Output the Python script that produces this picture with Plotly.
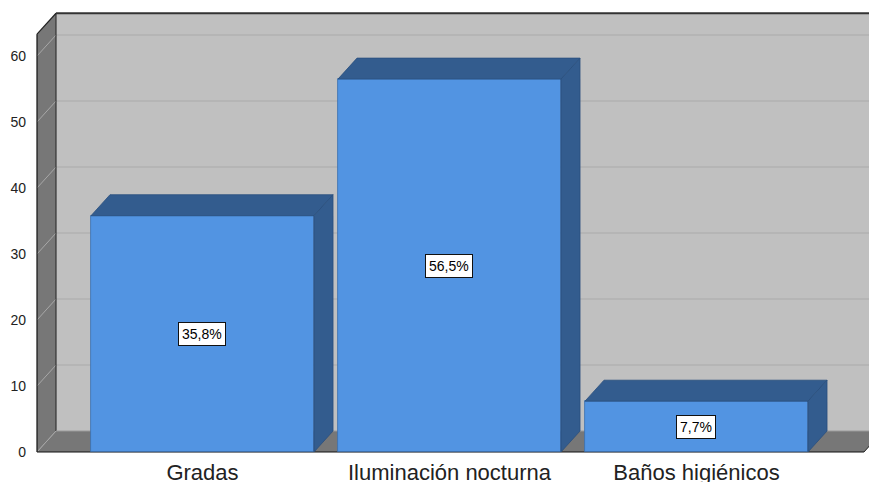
import plotly.graph_objects as go

categories = ["Gradas", "Iluminación nocturna", "Baños higiénicos"]
values = [35.8, 56.5, 7.7]
y_ticks = [0, 10, 20, 30, 40, 50, 60]

# styling / geometry (data units)
BAR_W = 0.903
DX = 0.077       # depth offset along x
DY = 3.18        # depth offset along y
X_LEFT = -0.670  # front-left corner of the frame
X_RIGHT = 2.678  # front-right end of floor
WALL_TOP = 63.3  # front top of left wall
FRONT = "#5294E2"
DARK = "#335C8E"
WALL_DARK = "#777777"
WALL_BACK = "#C0C0C0"

xs = list(range(len(categories)))
labels = [f"{v:.1f}".replace(".", ",") + "%" for v in values]

fig = go.Figure()

shapes = []
# back wall
shapes.append(dict(type="path", layer="below",
                   path=f"M {X_LEFT+DX},{DY} L {X_LEFT+DX},{WALL_TOP+DY} L {X_RIGHT+DX+0.2},{WALL_TOP+DY} L {X_RIGHT+DX+0.2},{DY} Z",
                   fillcolor=WALL_BACK, line=dict(width=0)))
# left wall
shapes.append(dict(type="path", layer="below",
                   path=f"M {X_LEFT},0 L {X_LEFT},{WALL_TOP} L {X_LEFT+DX},{WALL_TOP+DY} L {X_LEFT+DX},{DY} Z",
                   fillcolor=WALL_DARK, line=dict(width=0)))
# floor
shapes.append(dict(type="path", layer="below",
                   path=f"M {X_LEFT},0 L {X_LEFT+DX},{DY} L {X_RIGHT+DX},{DY} L {X_RIGHT},0 Z",
                   fillcolor=WALL_DARK, line=dict(width=0)))
# gridlines back wall + diagonals on left wall
for t in y_ticks[1:]:
    shapes.append(dict(type="line", layer="below", x0=X_LEFT+DX, x1=X_RIGHT+DX+0.2, y0=t+DY, y1=t+DY,
                       line=dict(color="#B2B2B2", width=1.5)))
    shapes.append(dict(type="line", layer="below", x0=X_LEFT, x1=X_LEFT+DX, y0=t, y1=t+DY,
                       line=dict(color="#A8A8A8", width=1)))
# corner diagonals at floor
shapes.append(dict(type="line", layer="below", x0=X_LEFT, x1=X_LEFT+DX, y0=0, y1=DY,
                   line=dict(color="#A8A8A8", width=1)))
shapes.append(dict(type="line", layer="below", x0=X_RIGHT, x1=X_RIGHT+DX, y0=0, y1=DY,
                   line=dict(color="#222222", width=1)))
# frame edges
shapes.append(dict(type="line", layer="below", x0=X_LEFT, x1=X_LEFT, y0=0, y1=WALL_TOP,
                   line=dict(color="#111111", width=1.2)))
shapes.append(dict(type="line", layer="below", x0=X_LEFT+DX, x1=X_LEFT+DX, y0=DY, y1=WALL_TOP+DY,
                   line=dict(color="#222222", width=1)))
shapes.append(dict(type="line", layer="below", x0=X_LEFT, x1=X_LEFT+DX, y0=WALL_TOP, y1=WALL_TOP+DY,
                   line=dict(color="#222222", width=1.2)))
shapes.append(dict(type="line", layer="below", x0=X_LEFT+DX, x1=X_RIGHT+DX+0.2, y0=WALL_TOP+DY, y1=WALL_TOP+DY,
                   line=dict(color="#333333", width=2)))
shapes.append(dict(type="line", layer="below", x0=X_LEFT, x1=X_RIGHT, y0=0, y1=0,
                   line=dict(color="#111111", width=1.2)))
shapes.append(dict(type="line", layer="below", x0=X_LEFT+DX, x1=X_RIGHT+DX+0.2, y0=DY, y1=DY,
                   line=dict(color="#9A9A9A", width=1)))

# 3D faces of bars (top and side), computed from the values
for x, v in zip(xs, values):
    l = x - BAR_W / 2
    r = x + BAR_W / 2
    fig.add_trace(go.Scatter(
        x=[l, l + DX, r + DX, r, l], y=[v, v + DY, v + DY, v, v],
        fill="toself", fillcolor=DARK, mode="lines",
        line=dict(color="#2A4F7D", width=0.8), hoverinfo="skip", showlegend=False))
    fig.add_trace(go.Scatter(
        x=[r, r, r + DX, r + DX, r], y=[0, v, v + DY, DY, 0],
        fill="toself", fillcolor=DARK, mode="lines",
        line=dict(color="#2A4F7D", width=0.8), hoverinfo="skip", showlegend=False))

fig.add_trace(go.Bar(
    x=xs, y=values, width=BAR_W,
    marker=dict(color=FRONT, line=dict(color="#3A6FAE", width=0.8)),
    showlegend=False, hoverinfo="skip"))

for x, v, lab in zip(xs, values, labels):
    fig.add_annotation(x=x, y=v / 2, text=lab, showarrow=False,
                       bgcolor="white", bordercolor="#111111", borderwidth=1, borderpad=3,
                       font=dict(size=14, color="black", family="Liberation Sans, Arial"))

PX_PER_Y = 6.6
PX_PER_X = 247
fig.update_layout(
    width=869, height=482,
    margin=dict(l=35, r=0, t=12, b=28),
    paper_bgcolor="white", plot_bgcolor="white",
    shapes=shapes,
    bargap=0,
    font=dict(family="Liberation Sans, Arial", color="#222222"),
    xaxis=dict(range=[X_LEFT - 2 / PX_PER_X, X_LEFT - 2 / PX_PER_X + 834 / PX_PER_X],
               tickvals=xs, ticktext=categories, showgrid=False, zeroline=False,
               showline=False, ticks="", tickfont=dict(size=22, color="#222222"),
               ticklabelstandoff=3, automargin=False),
    yaxis=dict(range=[-2 / PX_PER_Y, (454 - 12 - 2) / PX_PER_Y],
               tickvals=y_ticks, showgrid=False, zeroline=False, showline=False,
               ticks="", tickfont=dict(size=14, color="#222222"), ticklabelstandoff=8,
               automargin=False),
)

fig.write_html("out.html", config={"displayModeBar": False},
               post_script="document.body.style.margin='0px';document.body.style.overflow='hidden';")
